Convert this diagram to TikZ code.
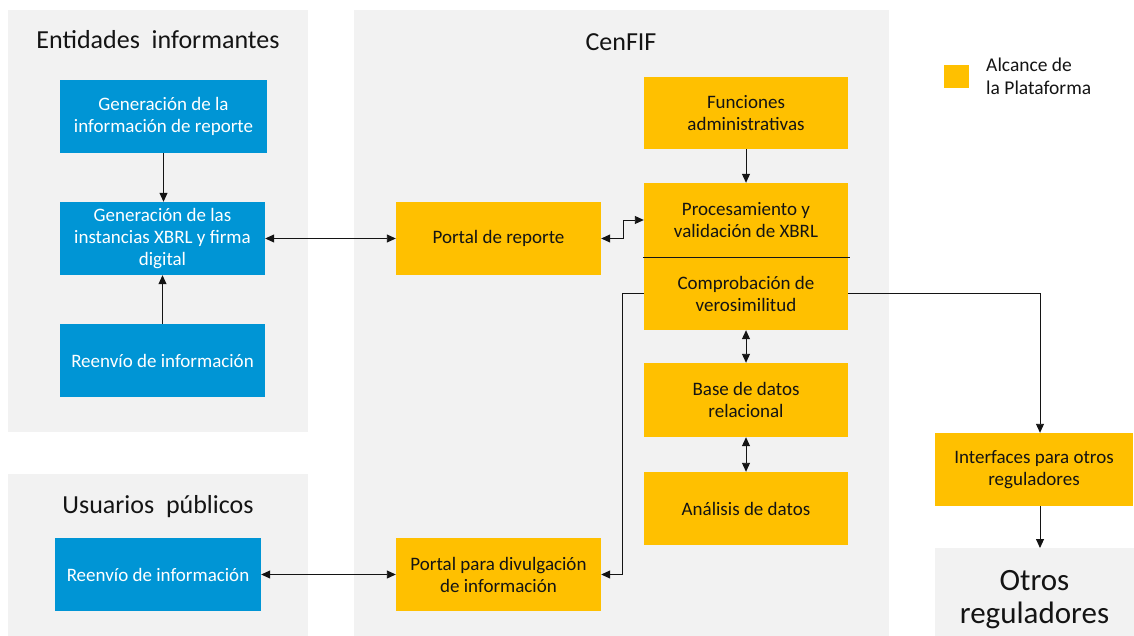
\documentclass[tikz,border=0pt]{standalone}
\usepackage{fontspec}
\setmainfont{Carlito}
\usetikzlibrary{arrows.meta}
\definecolor{panel}{RGB}{242,242,242}
\definecolor{blu}{RGB}{0,149,213}
\definecolor{ora}{RGB}{255,192,0}
\definecolor{ink}{RGB}{20,20,20}
\begin{document}
\begin{tikzpicture}[x=1pt,y=-1pt,
  panelbox/.style={fill=panel,draw=none,inner sep=0,anchor=north west},
  boxtext/.style={align=center,font=\fontsize{19}{22}\selectfont,inner sep=1pt},
  bluebox/.style={boxtext,fill=blu,text=white,minimum width=#1,minimum height=73},
  orabox/.style={boxtext,fill=ora,text=ink,minimum width=#1,minimum height=73},
  title/.style={font=\fontsize{26}{30}\selectfont,text=ink},
  conn/.style={line width=0.9pt,draw=ink,-{Triangle[length=9pt,width=8pt]}},
  dconn/.style={line width=0.9pt,draw=ink,{Triangle[length=9pt,width=8pt]}-{Triangle[length=9pt,width=8pt]}}
]
\useasboundingbox (0,0) rectangle (1134,636);
\fill[white] (0,0) rectangle (1134,636);

% panels
\node[panelbox,minimum width=300,minimum height=422] (pent) at (8,10) {};
\node[panelbox,minimum width=300,minimum height=162] (pusu) at (8,474) {};
\node[panelbox,minimum width=535,minimum height=626] (pcen) at (354,10) {};
\node[panelbox,minimum width=199,minimum height=88] (otros) at (935,548) {};
\node[align=center,font=\fontsize{31}{33}\selectfont,text=ink] (otrost) at (1034.5,600) {Otros\\reguladores};

% titles
\node[title] (tent) at (158,40) {Entidades\ \ informantes};
\node[title] (tusu) at (158,507) {Usuarios\ \ públicos};
\node[title] (tcen) at (621,42) {CenFIF};

% blue boxes
\node[bluebox=207] (gen1) at (163.5,116.5) {Generación de la\\información de reporte};
\node[bluebox=205] (gen2) at (162.5,238.5) {Generación de las\\instancias XBRL y firma\\digital};
\node[bluebox=205] (reenv1) at (162.5,360.5) {Reenvío de información};
\node[bluebox=206] (reenv2) at (158,574.5) {Reenvío de información};

% orange boxes
\node[orabox=205] (portrep) at (498.5,238.5) {Portal de reporte};
\node[orabox=205] (portdiv) at (498.5,574.5) {Portal para divulgación\\de información};
\node[orabox=204,minimum height=72] (func) at (746,113) {Funciones\\administrativas};
\node[orabox=204,minimum height=74] (proc) at (746,220) {Procesamiento y\\validación de XBRL};
\node[orabox=204] (comp) at (746,293.5) {Comprobación de\\verosimilitud};
\node[orabox=204,minimum height=74] (base) at (746,400) {Base de datos\\relacional};
\node[orabox=204] (anal) at (746,508.5) {Análisis de datos};
\node[orabox=198] (interf) at (1034,469.5) {Interfaces para otros\\reguladores};
\draw[line width=0.9pt,draw=ink] ([xshift=-1]proc.south west) -- ([xshift=2]proc.south east);

% legend
\node[fill=ora,minimum width=25,minimum height=23,inner sep=0] (leg) at (956.5,76.5) {};
\node[anchor=west,align=left,font=\fontsize{19.5}{23}\selectfont,text=ink,inner sep=0] (legt) at (986,76) {Alcance de\\la Plataforma};

% connectors
\draw[conn] (gen1.south) -- (gen1.south |- gen2.north);
\draw[conn] (reenv1.north) -- (gen2.south);
\draw[dconn] (gen2.east) -- (portrep.west);
\draw[dconn] (portrep.east) -- ++(22,0) |- (proc.west);
\draw[conn] (func.south) -- (proc.north);
\draw[dconn] (comp.south) -- (base.north);
\draw[dconn] (base.south) -- (anal.north);
\draw[conn] (comp.west) -- ++(-21,0) |- (portdiv.east);
\coordinate (ti) at ([xshift=6]interf.north);
\draw[conn] (comp.east) -| (ti);
\draw[conn] ([xshift=6]interf.south) -- ([xshift=6]interf.south |- otros.north);
\draw[dconn] (reenv2.east) -- (portdiv.west);
\end{tikzpicture}
\end{document}
